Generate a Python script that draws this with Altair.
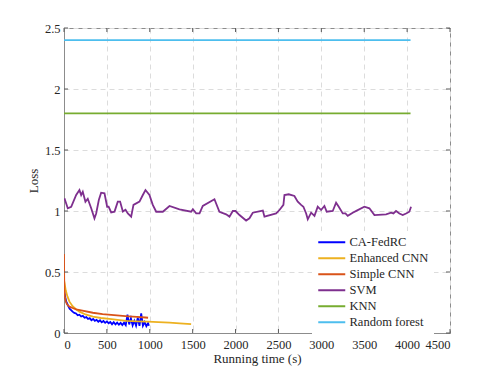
import altair as alt
import pandas as pd

series_names = ["CA-FedRC", "Enhanced CNN", "Simple CNN", "SVM", "KNN", "Random forest"]
series_colors = ["#0000FF", "#EDB120", "#D95319", "#7E2F8E", "#77AC30", "#4DBEEE"]

blue_x = [0, 8, 16, 25, 35, 50, 65, 80, 100, 120, 140, 160, 180, 200, 220, 240, 260, 280, 300, 320,
          340, 360, 380, 400, 420, 440, 460, 480, 500, 520, 540, 560, 580, 600, 620, 640, 660, 680,
          700, 720, 740, 760, 780, 800, 820, 840, 860, 880, 900, 920, 940, 960, 980, 990]
blue_y = [0.35, 0.32, 0.29, 0.26, 0.245, 0.22, 0.20, 0.19, 0.175, 0.165, 0.16, 0.145, 0.15, 0.135,
          0.14, 0.125, 0.13, 0.115, 0.122, 0.105, 0.115, 0.10, 0.108, 0.092, 0.104, 0.088, 0.098,
          0.083, 0.095, 0.08, 0.09, 0.072, 0.088, 0.07, 0.085, 0.068, 0.083, 0.066, 0.085, 0.064,
          0.15, 0.07, 0.12, 0.062, 0.10, 0.06, 0.125, 0.058, 0.16, 0.06, 0.09, 0.055, 0.08, 0.06]

yellow_x = [0, 6, 20, 40, 64, 100, 140, 180, 250, 336, 430, 530, 625, 725, 850, 977, 1100, 1230,
            1350, 1482]
yellow_y = [0.43, 0.41, 0.35, 0.30, 0.257, 0.22, 0.195, 0.175, 0.152, 0.134, 0.123, 0.115, 0.107,
            0.10, 0.096, 0.093, 0.089, 0.085, 0.079, 0.073]

red_x = [0, 2, 5, 10, 20, 35, 50, 64, 100, 142, 200, 336, 450, 550, 650, 750, 850, 950, 980]
red_y = [0.648, 0.45, 0.35, 0.30, 0.26, 0.235, 0.225, 0.216, 0.205, 0.194, 0.185, 0.166, 0.155,
         0.148, 0.142, 0.137, 0.132, 0.127, 0.125]

svm_x = [5, 44, 84, 142, 180, 200, 219, 250, 277, 317, 355, 375, 406, 433, 472, 503, 520, 550, 589,
         627, 654, 686, 717, 744, 783, 810, 880, 919, 950, 996, 1035, 1075, 1152, 1230, 1346, 1482,
         1502, 1541, 1580, 1618, 1754, 1812, 1890, 1929, 1968, 1999, 2046, 2123, 2162, 2201, 2318,
         2337, 2473, 2512, 2558, 2570, 2620, 2686, 2725, 2764, 2791, 2823, 2842, 2881, 2920, 2958,
         2997, 3036, 3063, 3133, 3172, 3203, 3250, 3281, 3308, 3366, 3413, 3502, 3560, 3619, 3755,
         3813, 3840, 3871, 3910, 3949, 3988, 4026, 4046]
svm_y = [1.104, 1.022, 1.035, 1.131, 1.172, 1.13, 1.158, 1.076, 1.10, 1.022, 0.94, 0.98, 1.09, 1.15,
         1.145, 1.035, 1.035, 0.989, 0.995, 1.077, 1.077, 0.995, 1.01, 0.98, 0.954, 1.05, 1.077,
         1.131, 1.172, 1.131, 1.05, 0.994, 0.994, 1.041, 1.014, 0.994, 1.014, 0.98, 0.98, 1.041,
         1.096, 0.994, 0.973, 0.954, 1.0, 1.0, 0.967, 0.922, 0.94, 0.986, 1.003, 0.954, 0.98, 1.008,
         1.05, 1.131, 1.137, 1.123, 1.077, 1.05, 1.035, 0.98, 0.932, 0.986, 0.96, 1.035, 1.008, 1.041,
         0.994, 1.0, 1.068, 1.035, 0.98, 0.98, 0.96, 0.986, 1.003, 1.035, 1.022, 0.967, 0.973, 0.986,
         0.98, 1.0, 0.98, 0.967, 0.98, 0.994, 1.035]

knn_x = [0, 4040]
knn_y = [1.8, 1.8]
rf_x = [0, 4040]
rf_y = [2.4, 2.4]

x_ticks = [0, 500, 1000, 1500, 2000, 2500, 3000, 3500, 4000, 4500]
y_ticks = [0, 0.5, 1, 1.5, 2, 2.5]

rows = []
for name, xs, ys in [
    ("CA-FedRC", blue_x, blue_y),
    ("Enhanced CNN", yellow_x, yellow_y),
    ("Simple CNN", red_x, red_y),
    ("SVM", svm_x, svm_y),
    ("KNN", knn_x, knn_y),
    ("Random forest", rf_x, rf_y),
]:
    for i, (a, b) in enumerate(zip(xs, ys)):
        rows.append({"series": name, "t": a, "loss": b, "i": i})
df = pd.DataFrame(rows)

W, H = 386, 305
FONT = "Liberation Serif, Times New Roman, serif"
FRAME = "#8c8c8c"

xscale = alt.Scale(domain=[0, 4500], nice=False)
yscale = alt.Scale(domain=[0, 2.5], nice=False)

lines = alt.Chart(df).mark_line(strokeWidth=1.8, clip=True).encode(
    x=alt.X("t:Q", scale=xscale, title="Running time (s)",
            axis=alt.Axis(values=x_ticks, format="d", grid=True, gridDash=[5, 4],
                          gridColor="#dcdcdc", tickSize=0, labelPadding=5)),
    y=alt.Y("loss:Q", scale=yscale, title="Loss",
            axis=alt.Axis(values=y_ticks, labelExpr="toString(datum.value)", grid=True,
                          gridDash=[5, 4], gridColor="#dcdcdc", tickSize=0, labelPadding=4)),
    color=alt.Color("series:N", scale=alt.Scale(domain=series_names, range=series_colors),
                    legend=alt.Legend(title=None, orient="none", legendX=248, legendY=203,
                                      symbolType="M-1,0H4.4", symbolSize=100, symbolStrokeWidth=2,
                                      labelFontSize=12.5, labelFont=FONT, labelColor="#262626",
                                      labelOffset=20, rowPadding=3, padding=5,
                                      fillColor="white")),
    order="i:Q",
)

xt = pd.DataFrame({"t": x_ticks})
yt = pd.DataFrame({"loss": y_ticks})
tick_color = "#5a5a5a"
xb = alt.Chart(xt).mark_rule(color=tick_color, strokeWidth=1).encode(
    x=alt.X("t:Q", scale=xscale), y=alt.value(H), y2=alt.value(H - 4))
xtop = alt.Chart(xt).mark_rule(color=tick_color, strokeWidth=1).encode(
    x=alt.X("t:Q", scale=xscale), y=alt.value(0), y2=alt.value(4))
yl = alt.Chart(yt).mark_rule(color=tick_color, strokeWidth=1).encode(
    y=alt.Y("loss:Q", scale=yscale), x=alt.value(0), x2=alt.value(4))
yr = alt.Chart(yt).mark_rule(color=tick_color, strokeWidth=1).encode(
    y=alt.Y("loss:Q", scale=yscale), x=alt.value(W), x2=alt.value(W - 4))

chart = alt.layer(lines, xb, xtop, yl, yr).properties(
    width=W, height=H,
    autosize=alt.AutoSizeParams(type="none"),
    padding={"left": 56, "top": 20, "right": 40, "bottom": 33},
).configure_view(
    stroke=FRAME, strokeWidth=1
).configure_axis(
    domainColor=FRAME, labelFont=FONT, titleFont=FONT, labelFontSize=12.5, titleFontSize=13,
    labelColor="#262626", titleColor="#262626", titleFontWeight="normal"
).configure_axisY(
    titlePadding=4
).configure_axisX(
    titlePadding=2
)

chart.save("out.html", embed_options={"renderer": "svg", "actions": False})
